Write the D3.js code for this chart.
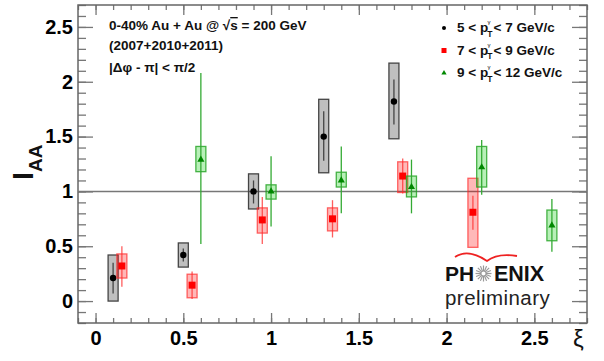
<!DOCTYPE html>
<html>
<head>
<meta charset="utf-8">
<script src="https://cdn.jsdelivr.net/npm/d3@7"></script>
<style>
  body { margin: 0; background: #fff; }
  svg { display: block; font-family: "Liberation Sans", Arial, sans-serif; }
</style>
</head>
<body>
<div id="chart"></div>
<script>
// series: 5 < pT < 7 GeV/c (black)
const xiBlack = [0.1, 0.5, 0.9, 1.3, 1.7];
const iaaBlack = [0.21, 0.42, 1.0, 1.50, 1.82];
const statBlack = [[0.07, 0.35], [0.36, 0.48], [0.89, 1.10], [1.28, 1.73], [1.61, 2.02]];
const sysBlack = [[0.0, 0.42], [0.31, 0.53], [0.84, 1.16], [1.17, 1.84], [1.48, 2.17]];

// series: 7 < pT < 9 GeV/c (red)
const xiRed = [0.15, 0.55, 0.95, 1.35, 1.75, 2.15];
const iaaRed = [0.32, 0.145, 0.74, 0.75, 1.14, 0.81];
const statRed = [[0.13, 0.50], [0.02, 0.27], [0.52, 0.95], [0.58, 0.92], [0.98, 1.30], [0.65, 0.96]];
const sysRed = [[0.21, 0.43], [0.03, 0.245], [0.62, 0.85], [0.64, 0.85], [0.99, 1.27], [0.49, 1.12]];

// series: 9 < pT < 12 GeV/c (green)
const xiGreen = [0.6, 1.0, 1.4, 1.8, 2.2, 2.6];
const iaaGreen = [1.29, 1.0, 1.10, 1.04, 1.22, 0.69];
const statGreen = [[0.52, 2.08], [0.68, 1.32], [0.80, 1.41], [0.80, 1.29], [0.97, 1.47], [0.45, 0.93]];
const sysGreen = [[1.18, 1.41], [0.93, 1.06], [1.04, 1.175], [0.95, 1.14], [1.04, 1.41], [0.55, 0.83]];

const xTicks = [0, 0.5, 1, 1.5, 2, 2.5];
const yTicks = [0, 0.5, 1, 1.5, 2, 2.5];
const legendLabels = [["5", "7"], ["7", "9"], ["9", "12"]];

const W = 604, H = 361;
const mLeft = 78, mRight = 587, mTop = 5, mBottom = 323;

const svg = d3.select("#chart").append("svg")
  .attr("width", W).attr("height", H);

const x = d3.scaleLinear().domain([-0.1, 2.8]).range([mLeft, mRight]);
const y = d3.scaleLinear().domain([-0.2, 2.7]).range([mBottom, mTop]);

const minorX = d3.range(-0.1, 2.81, 0.1).map(v => +v.toFixed(2));
const minorY = d3.range(-0.2, 2.71, 0.1).map(v => +v.toFixed(2));

const tickColor = "#777";

function styleAxis(g) {
  g.select(".domain").remove();
  g.selectAll(".tick line").attr("stroke", tickColor).attr("stroke-width", 1.3);
  g.selectAll("text").attr("fill", "#000").attr("font-weight", "bold").attr("font-size", 20);
}

// bottom axis
svg.append("g").attr("transform", `translate(0,${mBottom})`)
  .call(d3.axisBottom(x).tickValues(minorX).tickSize(-5).tickFormat(""))
  .call(styleAxis);
svg.append("g").attr("transform", `translate(0,${mBottom})`)
  .call(d3.axisBottom(x).tickValues(xTicks).tickSize(-10).tickPadding(8).tickFormat(d => String(d)))
  .call(styleAxis);
// top axis
svg.append("g").attr("transform", `translate(0,${mTop})`)
  .call(d3.axisTop(x).tickValues(minorX).tickSize(-5).tickFormat(""))
  .call(styleAxis);
svg.append("g").attr("transform", `translate(0,${mTop})`)
  .call(d3.axisTop(x).tickValues(xTicks).tickSize(-10).tickFormat(""))
  .call(styleAxis);
// left axis
svg.append("g").attr("transform", `translate(${mLeft},0)`)
  .call(d3.axisLeft(y).tickValues(minorY).tickSize(-8).tickFormat(""))
  .call(styleAxis);
svg.append("g").attr("transform", `translate(${mLeft},0)`)
  .call(d3.axisLeft(y).tickValues(yTicks).tickSize(-15).tickPadding(5).tickFormat(d => String(d)))
  .call(styleAxis);
// right axis
svg.append("g").attr("transform", `translate(${mRight},0)`)
  .call(d3.axisRight(y).tickValues(minorY).tickSize(-8).tickFormat(""))
  .call(styleAxis);
svg.append("g").attr("transform", `translate(${mRight},0)`)
  .call(d3.axisRight(y).tickValues(yTicks).tickSize(-15).tickFormat(""))
  .call(styleAxis);

// frame
svg.append("rect")
  .attr("x", mLeft).attr("y", mTop)
  .attr("width", mRight - mLeft).attr("height", mBottom - mTop)
  .attr("fill", "none").attr("stroke", "#666").attr("stroke-width", 1.5);

// reference line at 1
svg.append("line")
  .attr("x1", mLeft).attr("x2", mRight)
  .attr("y1", y(1)).attr("y2", y(1))
  .attr("stroke", "#777").attr("stroke-width", 1.5);

// data series
const series = [
  { xi: xiBlack, iaa: iaaBlack, stat: statBlack, sys: sysBlack,
    boxFill: "rgba(0,0,0,0.25)", boxStroke: "#444", statColor: "#444", marker: "circle", color: "#000" },
  { xi: xiRed, iaa: iaaRed, stat: statRed, sys: sysRed,
    boxFill: "rgba(255,0,0,0.28)", boxStroke: "rgba(255,40,40,0.7)", statColor: "rgba(255,40,40,0.75)", marker: "square", color: "#f00" },
  { xi: xiGreen, iaa: iaaGreen, stat: statGreen, sys: sysGreen,
    boxFill: "rgba(0,200,0,0.28)", boxStroke: "rgba(30,160,30,0.8)", statColor: "#3a3", marker: "triangle", color: "#080" }
];

const boxW = 10;

function drawMarker(g, type, cx, cy, color) {
  if (type === "circle") {
    g.append("circle").attr("cx", cx).attr("cy", cy).attr("r", 3.2).attr("fill", color);
  } else if (type === "square") {
    g.append("rect").attr("x", cx - 3.5).attr("y", cy - 3.5).attr("width", 7).attr("height", 7).attr("fill", color);
  } else {
    g.append("path")
      .attr("d", d3.symbol().type(d3.symbolTriangle).size(22)())
      .attr("transform", `translate(${cx},${cy})`)
      .attr("fill", color);
  }
}

series.forEach(s => {
  const g = svg.append("g");
  s.xi.forEach((xv, i) => {
    const px = x(xv);
    g.append("rect")
      .attr("x", px - boxW / 2).attr("width", boxW)
      .attr("y", y(s.sys[i][1])).attr("height", y(s.sys[i][0]) - y(s.sys[i][1]))
      .attr("fill", s.boxFill).attr("stroke", s.boxStroke).attr("stroke-width", 1.3);
    g.append("line")
      .attr("x1", px).attr("x2", px)
      .attr("y1", y(s.stat[i][0])).attr("y2", y(s.stat[i][1]))
      .attr("stroke", s.statColor).attr("stroke-width", 1.3);
    drawMarker(g, s.marker, px, y(s.iaa[i]), s.color);
  });
});

// annotation text
const ann = svg.append("g").attr("font-weight", "bold").attr("font-size", 13.5).attr("fill", "#111");
const t1 = ann.append("text").attr("x", 109).attr("y", 30);
t1.append("tspan").text("0-40% Au + Au @ \u221A");
t1.append("tspan").attr("text-decoration", "overline").text("s");
t1.append("tspan").text(" = 200 GeV");
ann.append("text").attr("x", 109).attr("y", 50).text("(2007+2010+2011)");
ann.append("text").attr("x", 109).attr("y", 72).text("|\u0394\u03C6 - \u03C0| < \u03C0/2");

// legend
const leg = svg.append("g").attr("font-weight", "bold").attr("fill", "#111");
const legMarkers = ["circle", "square", "triangle"];
const legColors = ["#000", "#f00", "#080"];
legendLabels.forEach((lab, i) => {
  const by = 32 + i * 22.5;
  const mg = leg.append("g");
  drawMarker(mg, legMarkers[i], 444, by - 4, legColors[i]);
  if (legMarkers[i] === "circle") mg.select("circle").attr("r", 2);
  if (legMarkers[i] === "square") mg.select("rect").attr("x", 441.5).attr("y", by - 6.5).attr("width", 5).attr("height", 5);
  if (legMarkers[i] === "triangle") mg.select("path").attr("d", d3.symbol().type(d3.symbolTriangle).size(12)());
  const t = leg.append("text").attr("x", 457).attr("y", by).attr("font-size", 13.5);
  t.append("tspan").text(`${lab[0]} < p`);
  t.append("tspan").attr("dx", -1).attr("dy", 4.5).attr("font-size", 8.5).text("T");
  t.append("tspan").attr("dx", -4.8).attr("dy", -12.5).attr("font-size", 6).attr("font-weight", "normal").text("\u03B3");
  t.append("tspan").attr("dx", 3).attr("dy", 8).text(`< ${lab[1]} GeV/c`);
});

// axis titles
const yt = svg.append("text")
  .attr("transform", `translate(33,180) rotate(-90)`)
  .attr("font-weight", "bold").attr("fill", "#111");
yt.append("tspan").attr("font-size", 29).text("I");
yt.append("tspan").attr("font-size", 19).attr("dy", 9).text("AA");

svg.append("text").attr("x", 573).attr("y", 347)
  .attr("font-size", 24).attr("fill", "#111").text("\u03BE");

// PHENIX preliminary logo
const logo = svg.append("g");
logo.append("path")
  .attr("d", "M455,257 Q468,248 487,261 Q497,253 517,256")
  .attr("fill", "none").attr("stroke", "#e22").attr("stroke-width", 1.8);
const rays = d3.range(0, 360, 22.5);
logo.append("g").selectAll("line").data(rays).join("line")
  .attr("x1", d => 483.5 + 2 * Math.cos(d * Math.PI / 180))
  .attr("y1", d => 273.5 + 2 * Math.sin(d * Math.PI / 180))
  .attr("x2", d => 483.5 + 8 * Math.cos(d * Math.PI / 180))
  .attr("y2", d => 273.5 + 8 * Math.sin(d * Math.PI / 180))
  .attr("stroke", "#999").attr("stroke-width", 1.2);
const lt = logo.append("text").attr("x", 445).attr("y", 281).attr("fill", "#111");
const ph = lt.append("tspan").attr("font-size", 21).attr("font-weight", "bold").text("PH");
const phW = ph.node().getComputedTextLength();
lt.append("tspan").attr("dx", 494 - 445 - phW).attr("font-size", 21.5).attr("font-weight", "bold").text("ENIX");
logo.append("text").attr("x", 445).attr("y", 304.5)
  .attr("font-size", 20.5).attr("letter-spacing", 0.45).attr("fill", "#222").text("preliminary");
</script>
</body>
</html>
